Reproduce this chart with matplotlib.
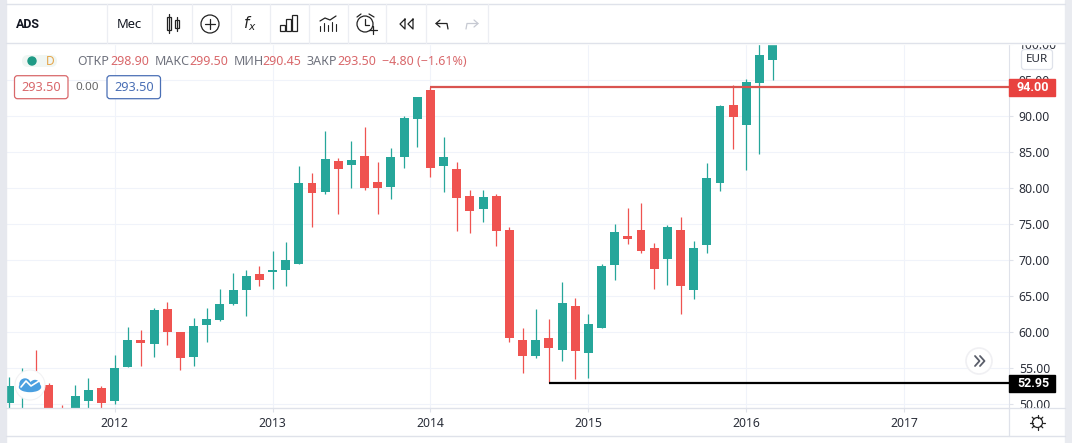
import matplotlib
matplotlib.use('Agg')
import matplotlib.pyplot as plt
from matplotlib.patches import Rectangle, Circle, FancyBboxPatch, Ellipse

plt.rcParams['font.family'] = ['Noto Sans', 'DejaVu Sans']

# monthly candles, first one is May 2011, month 0 is Jan 2012
first_month = -8
opens = [50.24, 51.5, 54.0, 52.69, 48.5, 48.5, 50.52, 52.27, 50.52, 55.23, 58.93, 58.38, 63.23, 60.04, 56.62, 61.06,
         61.7, 63.92, 65.87, 68.08, 68.36, 68.69, 69.52, 80.7, 79.46, 83.76, 83.2, 84.45, 80.84, 80.15, 84.31, 89.58,
         93.6, 83.06, 82.65, 78.9, 77.1, 78.9, 74.19, 58.93, 56.71, 59.2, 57.55, 63.65, 57.13, 60.6, 69.34, 73.36,
         74.19, 71.69, 70.17, 74.19, 65.87, 72.11, 80.71, 91.53, 88.75, 94.58, 97.77]
highs = [53.75, 55.0, 57.54, 52.9, 49.9, 52.69, 53.61, 52.55, 56.85, 60.69, 60.32, 63.32, 64.2, 60.04, 61.94, 63.32,
         65.96, 68.18, 68.64, 69.2, 71.32, 72.57, 83.06, 82.14, 87.96, 84.13, 86.53, 88.52, 83.66, 85.51, 90.0, 92.63,
         94.0, 87.08, 83.62, 79.73, 79.73, 79.18, 74.65, 60.59, 63.23, 61.84, 67.03, 64.76, 62.54, 69.48, 75.02, 77.24,
         77.94, 72.39, 74.88, 75.99, 72.66, 83.48, 91.53, 94.3, 95.13, 101.0, 101.0]
lows = [49.0, 49.0, 51.5, 47.0, 47.0, 48.0, 49.45, 49.55, 50.05, 55.2, 55.32, 56.62, 58.24, 54.82, 55.32, 58.7,
        61.57, 63.83, 62.26, 66.42, 65.96, 66.42, 69.5, 74.65, 79.18, 76.4, 79.96, 79.73, 76.4, 78.53, 82.78, 85.74,
        81.54, 79.46, 74.05, 73.77, 75.29, 71.97, 58.65, 54.35, 56.43, 52.95, 56.02, 53.52, 53.66, 60.6, 67.26, 72.25,
        71.0, 65.96, 66.52, 62.54, 64.67, 71.0, 79.6, 85.43, 82.51, 84.73, 95.0]
closes = [52.55, 54.0, 52.0, 48.0, 47.5, 51.16, 52.0, 50.24, 55.05, 58.93, 58.56, 63.09, 60.09, 56.48, 60.87, 61.84,
          63.92, 65.87, 67.81, 67.3, 68.64, 70.03, 80.75, 79.32, 84.03, 82.65, 83.89, 80.01, 80.01, 84.31, 89.72, 92.63,
          82.78, 84.31, 78.62, 76.82, 78.76, 74.05, 59.2, 56.71, 58.93, 57.82, 64.07, 57.41, 61.15, 69.2, 73.91, 72.94,
          71.28, 68.78, 74.61, 66.42, 71.69, 81.4, 91.39, 89.86, 94.72, 98.46, 100.5]

year_ticks = [0, 12, 24, 36, 48, 60]
year_labels = ['2012', '2013', '2014', '2015', '2016', '2017']
price_ticks = [50, 55, 60, 65, 70, 75, 80, 85, 90, 95, 100]

red_level, red_start = 94.0, 24
black_level, black_start = 52.95, 33

GREEN = '#26a69a'
RED = '#ef5350'
GRID = '#f0f3fa'
EDGE = '#dfe2ea'
TEXT = '#2a2e39'
W, H = 1072, 443

fig = plt.figure(figsize=(W / 100, H / 100), dpi=100, facecolor='white')

# price pane, x pixels 6-1009 and y pixels 43-408
ax = fig.add_axes([6 / W, 1 - 408 / H, 1003 / W, 365 / H])
ax.set_xlim(-8.25, 67.96)
ax.set_ylim(49.5, 100.12)
ax.set_axisbelow(True)
ax.grid(True, color=GRID, linewidth=0.8)
for s in ['top', 'left']:
    ax.spines[s].set_visible(False)
for s in ['right', 'bottom']:
    ax.spines[s].set_color(EDGE)
ax.yaxis.tick_right()
ax.set_xticks(year_ticks)
ax.set_xticklabels(year_labels)
ax.set_yticks(price_ticks)
ax.set_yticklabels(['%.2f' % p for p in price_ticks])
ax.tick_params(axis='y', length=3, width=0.8, color=EDGE, labelsize=8.8, labelcolor=TEXT, pad=4)
ax.tick_params(axis='x', length=3, width=0.8, color=EDGE, labelsize=8.8, labelcolor=TEXT, pad=3.5)

months = [first_month + i for i in range(len(opens))]
colors = [GREEN if c >= o else RED for o, c in zip(opens, closes)]
bottoms = [min(o, c) for o, c in zip(opens, closes)]
heights = [abs(c - o) for o, c in zip(opens, closes)]
ax.vlines(months, lows, highs, colors=colors, linewidth=0.9, zorder=2)
ax.bar(months, heights, bottom=bottoms, width=0.68, color=colors, zorder=3)

ax.hlines(red_level, red_start, ax.get_xlim()[1], color='#d9534f', linewidth=1.6, zorder=4)
ax.hlines(black_level, black_start, ax.get_xlim()[1], color='black', linewidth=1.6, zorder=4)

# overlay in pixel coordinates for the toolbar and the other interface pieces
ui = fig.add_axes([0, 0, 1, 1], facecolor='none')
ui.set_xlim(0, W)
ui.set_ylim(H, 0)
ui.axis('off')


def ln(xs, ys, color='#222222', lw=0.9, z=6):
    ui.plot(xs, ys, color=color, linewidth=lw, zorder=z, solid_capstyle='round')


def label_box(y0, y1, text, color):
    ui.add_patch(Rectangle((1009, y0), 46, y1 - y0, color=color, zorder=5))
    ui.text(1033, (y0 + y1) / 2, text, color='white', fontsize=9, fontweight='bold', family='Roboto',
            ha='center', va='center', zorder=6)


# window frame
ui.add_patch(Rectangle((0, 0), W, 43.5, color='white', zorder=3))
ui.add_patch(Rectangle((1010, 408.6), 55, 6, color='white', zorder=3))
ui.add_patch(Rectangle((0, 0), 6, H, color='#e6e8ee', zorder=4))
ui.add_patch(Rectangle((1065, 0), 7, H, color='#e9ebf0', zorder=4))
ln([6, 1065], [3.5, 3.5], EDGE, 1.0, 5)
ln([6, 1065], [43, 43], EDGE, 1.0, 5)
ln([6, 1065], [408, 408], EDGE, 0.9, 5)
ln([6, 1065], [436, 436], EDGE, 1.0, 5)
ln([1009, 1009], [408, 436], EDGE, 0.9, 5)
for x in [107, 152, 191.5, 231, 270, 308.5, 348, 386, 425.6, 488]:
    ln([x, x], [4, 43], '#eceef3', 0.9, 5)

ui.text(15.5, 24, 'ADS', fontsize=9, fontweight='bold', family='Roboto', color='#131722', va='center', zorder=6)
ui.text(117, 24, 'Мес', fontsize=9.4, color='#131722', va='center', zorder=6)

# candle icon
ui.add_patch(Rectangle((166.5, 17), 4.5, 13, fill=False, ec='#222222', lw=0.9, zorder=6))
ui.add_patch(Rectangle((174.5, 20), 4.5, 8, fill=False, ec='#222222', lw=0.9, zorder=6))
ln([168.7, 168.7], [14, 33])
ln([176.7, 176.7], [17, 31])
# plus icon
ui.add_patch(Circle((210, 24), 9, fill=False, ec='#222222', lw=0.9, zorder=6))
ln([205, 215], [24, 24])
ln([210, 210], [19, 29])
# fx icon
ui.text(250, 24, '$f_{x}$', fontsize=11, color='#222222', ha='center', va='center', zorder=6)
# bars icon
for x0, h in [(280, 6), (286, 12), (292, 16)]:
    ui.add_patch(Rectangle((x0, 31 - h), 5, h, fill=False, ec='#222222', lw=0.9, zorder=6))
# indicator icon
ln([320, 325, 330, 336], [21, 18, 20, 16])
for x0, h in [(320, 5), (324, 8), (328, 6), (332, 9), (336, 7)]:
    ln([x0, x0], [31, 31 - h], '#222222', 0.8)
# alarm icon
ui.add_patch(Circle((365, 24), 8, fill=False, ec='#222222', lw=0.9, zorder=6))
ln([365, 365, 369], [19, 25, 25])
ln([357, 361], [17, 14])
ln([369, 374], [14, 17])
ln([369, 377], [30, 30])
ln([373, 373], [26, 34])
# rewind icon
ln([405, 400, 405, 405], [19, 24, 29, 19])
ln([413, 408, 413, 413], [19, 24, 29, 19])
# undo and redo
ln([440, 436, 440], [20, 23.5, 27])
ln([436, 447, 448], [23.5, 23.5, 29])
ln([474, 478, 474], [20, 23.5, 27], '#c6c9d2')
ln([478, 467, 466], [23.5, 23.5, 29], '#c6c9d2')

# legend row
ui.add_patch(FancyBboxPatch((22, 55), 35, 12, boxstyle='round,pad=0,rounding_size=6',
                            fc='#f0f6f3', ec='none', zorder=5))
ui.add_patch(Circle((32, 61), 4, color='#1f9a85', zorder=6))
ui.text(50, 61, 'D', fontsize=8.6, color='#e5a54a', ha='center', va='center', zorder=6)
legend_items = [(77, 'ОТКР', '#70737e'), (110, '298.90', '#d9686b'), (155, 'МАКС', '#70737e'),
                (189.4, '299.50', '#d9686b'), (234, 'МИН', '#70737e'), (262, '290.45', '#d9686b'),
                (306.5, 'ЗАКР', '#70737e'), (337.5, '293.50', '#d9686b'), (382, '−4.80 (−1.61%)', '#d9686b')]
for x, s, c in legend_items:
    ui.text(x, 61, s, fontsize=9, color=c, va='center', zorder=6)

ui.add_patch(FancyBboxPatch((14.5, 75.7), 53.5, 23, boxstyle='round,pad=0,rounding_size=3',
                            fc='white', ec='#d9686b', lw=0.9, zorder=5))
ui.text(41, 87, '293.50', fontsize=9.2, color='#d9686b', ha='center', va='center', zorder=6)
ui.text(87.5, 87, '0.00', fontsize=8.4, color='#666666', ha='center', va='center', zorder=6)
ui.add_patch(FancyBboxPatch((107, 75.7), 53.5, 23, boxstyle='round,pad=0,rounding_size=3',
                            fc='white', ec='#4a6fb5', lw=0.9, zorder=5))
ui.text(134, 87, '293.50', fontsize=9.2, color='#4a6fb5', ha='center', va='center', zorder=6)

# currency tag and price tags
ui.add_patch(FancyBboxPatch((1021.5, 49.5), 31, 20, boxstyle='round,pad=0,rounding_size=3',
                            fc='white', ec=EDGE, lw=0.9, zorder=5))
ui.text(1037, 59.5, 'EUR', fontsize=8.4, color=TEXT, ha='center', va='center', zorder=6)
label_box(79, 95.7, '94.00', '#e8423f')
label_box(375, 391.7, '52.95', 'black')

# scroll button
ui.add_patch(Circle((979, 361), 13, fc='white', ec='#f0f0f3', lw=1.2, zorder=5))
ln([975, 979.5, 975], [356, 361, 366], '#5a5e6a', 1.3)
ln([980, 984.5, 980], [356, 361, 366], '#5a5e6a', 1.3)

# logo button
ui.add_patch(Circle((30, 385), 15, fc='white', ec='#f2f2f4', lw=0.8, zorder=5))
ui.add_patch(Ellipse((30, 387), 21, 9, color='#4a9fe0', zorder=6))
ui.add_patch(Circle((25, 384), 5, color='#4a9fe0', zorder=6))
ui.add_patch(Circle((35, 385), 4.5, color='#4a9fe0', zorder=6))
ln([21, 26, 31, 39], [387, 381, 386, 381], 'white', 1.2, 7)

# settings icon
ui.add_patch(Circle((1037.5, 422.5), 5, fill=False, ec='#222222', lw=0.9, zorder=6))
ln([1037.5, 1037.5], [415, 417.5])
ln([1037.5, 1037.5], [427.5, 430])
ln([1030, 1032.5], [422.5, 422.5])
ln([1042.5, 1045], [422.5, 422.5])
ln([1032.2, 1034], [417.2, 419])
ln([1041, 1042.8], [426, 427.8])
ln([1032.2, 1034], [427.8, 426])
ln([1041, 1042.8], [419, 417.2])

fig.savefig('out.png', dpi=100, facecolor='white')
